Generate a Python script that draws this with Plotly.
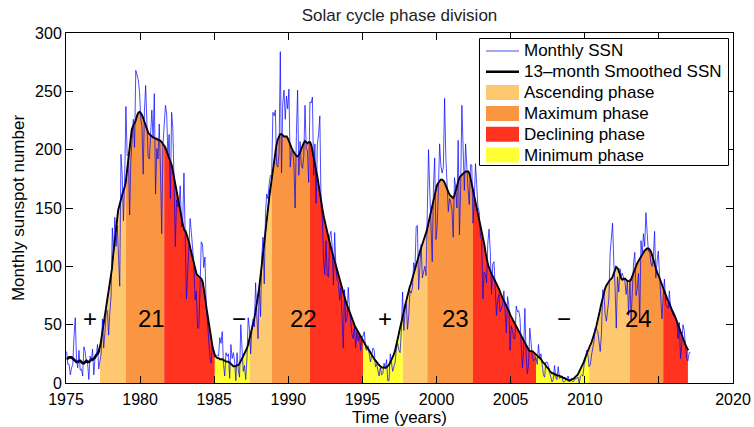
"""
Solar cycle phase division: monthly and 13-month smoothed sunspot number
with the ascending / maximum / declining / minimum phases shaded.
"""
import numpy as np
import plotly.graph_objects as go

start_year = 1975

# Monthly mean sunspot number, Jan 1975 .. Feb 2017 (one row per year)
monthly_ssn = [
    27, 16, 16, 7, 13, 16, 40, 56, 20, 13, 28, 11,            # 1975
    12, 6, 31, 27, 18, 17, 3, 23, 19, 29, 7, 22,              # 1976
    23, 33, 12, 18, 26, 55, 30, 43, 62, 62, 41, 61,           # 1977
    74, 133, 109, 142, 117, 135, 100, 83, 196, 178, 139, 174,  # 1978
    237, 195, 196, 144, 191, 212, 226, 202, 268, 264, 260, 250,  # 1979
    227, 220, 179, 233, 255, 223, 194, 192, 220, 234, 210, 248,  # 1980
    162, 201, 192, 222, 181, 128, 204, 225, 238, 231, 195, 213,  # 1981
    158, 232, 218, 173, 117, 157, 151, 153, 169, 134, 139, 180,  # 1982
    120, 72, 94, 115, 141, 129, 117, 102, 71, 79, 47, 47,     # 1983
    81, 121, 119, 99, 108, 65, 53, 36, 22, 17, 32, 27,        # 1984
    23, 23, 24, 23, 39, 34, 44, 16, 6, 26, 23, 25,            # 1985
    4, 33, 21, 26, 19, 2, 26, 11, 5, 50, 22, 10,              # 1986
    15, 3, 21, 56, 47, 25, 48, 55, 48, 86, 57, 38,            # 1987
    84, 57, 108, 125, 85, 145, 162, 158, 171, 178, 178, 232,  # 1988
    229, 234, 187, 185, 197, 284, 180, 240, 251, 226, 246, 235,  # 1989
    252, 185, 199, 199, 188, 150, 212, 251, 178, 207, 187, 184,  # 1990
    194, 238, 201, 199, 172, 241, 240, 245, 178, 205, 154, 205,  # 1991
    213, 229, 152, 142, 105, 93, 122, 92, 91, 126, 130, 117,  # 1992
    84, 129, 99, 88, 87, 71, 82, 60, 30, 80, 52, 56,          # 1993
    82, 64, 50, 42, 38, 48, 30, 44, 36, 42, 28, 40,           # 1994
    40, 44, 30, 28, 32, 22, 18, 24, 30, 28, 14, 16,           # 1995
    11, 6, 13, 7, 8, 17, 12, 20, 2, 2, 25, 19,                # 1996
    10, 14, 18, 30, 34, 28, 26, 45, 78, 45, 62, 68,           # 1997
    46, 58, 79, 77, 82, 103, 97, 134, 135, 80, 107, 119,      # 1998
    90, 96, 100, 92, 154, 200, 165, 136, 104, 169, 193, 123,  # 1999
    134, 167, 205, 186, 180, 185, 244, 194, 163, 147, 158, 155,  # 2000
    148, 125, 176, 167, 150, 208, 127, 165, 238, 195, 165, 205,  # 2001
    177, 166, 153, 187, 187, 137, 154, 188, 170, 151, 147, 126,  # 2002
    123, 72, 95, 93, 86, 120, 132, 113, 76, 102, 104, 72,     # 2003
    58, 71, 76, 61, 64, 67, 79, 63, 43, 74, 67, 28,           # 2004
    49, 45, 38, 38, 66, 61, 62, 56, 34, 13, 28, 64,           # 2005
    24, 8, 16, 47, 35, 22, 19, 20, 22, 16, 33, 21,            # 2006
    25, 16, 7, 5, 18, 18, 15, 9, 4, 1, 3, 15,                 # 2007
    5, 3, 14, 4, 5, 5, 1, 1, 2, 4, 6, 1,                      # 2008
    2, 2, 1, 2, 4, 4, 5, 0, 6, 7, 6, 16,                      # 2009
    20, 28, 25, 14, 16, 24, 30, 36, 48, 46, 44, 36,           # 2010
    27, 42, 80, 77, 59, 53, 62, 72, 111, 125, 137, 104,       # 2011
    83, 47, 91, 78, 98, 92, 94, 89, 87, 76, 88, 58,           # 2012
    89, 54, 82, 103, 112, 75, 81, 94, 53, 122, 110, 128,      # 2013
    117, 146, 129, 113, 113, 103, 100, 107, 130, 90, 104, 113,  # 2014
    93, 67, 55, 75, 89, 67, 66, 64, 79, 64, 62, 58,           # 2015
    57, 56, 54, 38, 52, 21, 32, 50, 45, 33, 21, 19,           # 2016
    26, 26,                                                   # 2017
]

# 13-month smoothed sunspot number, Jan 1975 .. Dec 2016
smoothed_ssn = [
    21, 21, 22, 22, 22, 21, 20, 19, 18, 18, 19, 19,            # 1975
    18, 17, 17, 18, 19, 18, 18, 19, 20, 20, 21, 22,            # 1976
    24, 25, 27, 30, 35, 42, 50, 57, 63, 69, 75, 81,            # 1977
    88, 98, 110, 120, 130, 140, 148, 152, 157, 161, 164, 167,  # 1978
    171, 180, 190, 200, 210, 217, 220, 222, 224, 228, 231, 232,  # 1979
    231, 229, 226, 222, 219, 216, 214, 213, 212, 211, 210, 210,  # 1980
    209, 209, 208, 208, 207, 206, 204, 203, 201, 198, 195, 192,  # 1981
    190, 186, 180, 174, 168, 163, 158, 152, 146, 140, 135, 131,  # 1982
    130, 127, 124, 120, 115, 110, 105, 100, 96, 93, 92, 91,    # 1983
    90, 89, 86, 80, 72, 64, 58, 52, 45, 37, 30, 25,            # 1984
    23, 22, 21, 21, 20, 20, 20, 19, 19, 18, 18, 18,            # 1985
    17, 16, 15, 14, 14, 14, 15, 15, 16, 18, 20, 22,            # 1986
    24, 26, 29, 32, 36, 40, 44, 49, 54, 60, 66, 72,            # 1987
    80, 89, 99, 109, 119, 128, 138, 148, 157, 165, 172, 180,   # 1988
    190, 197, 203, 208, 211, 213, 213, 212, 211, 211, 211, 209,  # 1989
    206, 203, 201, 199, 197, 195, 194, 194, 195, 197, 200, 203,  # 1990
    205, 207, 206, 205, 206, 206, 203, 198, 192, 187, 181, 175,  # 1991
    168, 160, 154, 148, 142, 137, 132, 128, 123, 119, 115, 111,  # 1992
    108, 104, 100, 96, 91, 87, 84, 80, 76, 72, 69, 66,         # 1993
    63, 60, 57, 54, 51, 49, 47, 45, 43, 41, 40, 38,            # 1994
    36, 34, 32, 30, 29, 27, 25, 24, 22, 20, 19, 17,            # 1995
    16, 15, 14, 13, 13, 13, 13, 13, 14, 15, 17, 19,            # 1996
    21, 24, 27, 31, 36, 41, 46, 50, 55, 60, 65, 70,            # 1997
    74, 78, 82, 85, 89, 92, 97, 101, 105, 109, 112, 115,       # 1998
    118, 121, 124, 127, 131, 136, 141, 146, 151, 157, 162, 166,  # 1999
    169, 171, 173, 174, 174, 173, 171, 168, 165, 163, 161, 160,  # 2000
    159, 158, 160, 164, 168, 172, 175, 177, 178, 179, 180, 181,  # 2001
    181, 181, 179, 175, 169, 164, 159, 154, 149, 144, 140, 136,  # 2002
    131, 125, 118, 111, 105, 101, 98, 95, 93, 91, 89, 87,      # 2003
    85, 83, 80, 77, 74, 72, 70, 68, 66, 63, 61, 58,            # 2004
    56, 53, 51, 49, 47, 45, 43, 41, 39, 37, 35, 33,            # 2005
    31, 29, 28, 27, 27, 27, 26, 25, 24, 23, 22, 21,            # 2006
    20, 18, 17, 16, 14, 13, 12, 10, 9, 8, 8, 7,                # 2007
    7, 6, 6, 6, 5, 5, 4, 4, 3, 3, 2, 2,                        # 2008
    2, 3, 3, 4, 5, 6, 7, 9, 11, 13, 16, 18,                    # 2009
    21, 24, 27, 30, 32, 34, 37, 40, 44, 48, 52, 57,            # 2010
    62, 67, 72, 76, 80, 83, 85, 87, 88, 89, 90, 93,            # 2011
    96, 99, 98, 95, 91, 89, 88, 89, 89, 88, 87, 87,            # 2012
    87, 88, 91, 94, 97, 100, 102, 104, 106, 108, 110, 112,     # 2013
    113, 114, 115, 115, 114, 112, 109, 105, 101, 97, 94, 92,   # 2014
    89, 86, 83, 80, 77, 75, 72, 70, 67, 65, 62, 60,            # 2015
    58, 55, 52, 49, 46, 43, 40, 37, 34, 32, 30, 28,            # 2016
]

# Phase periods as (year, month) of first and last smoothed month
ascending_periods = [((1977, 4), (1979, 1)), ((1987, 5), (1988, 11)),
                     ((1997, 9), (1999, 5)), ((2010, 4), (2013, 1))]
maximum_periods = [((1979, 1), (1981, 8)), ((1988, 11), (1991, 6)),
                   ((1999, 5), (2002, 6)), ((2013, 1), (2015, 4))]
declining_periods = [((1981, 8), (1985, 1)), ((1991, 6), (1995, 1)),
                     ((2002, 6), (2006, 9)), ((2015, 4), (2016, 12))]
minimum_periods = [((1985, 1), (1987, 5)), ((1995, 1), (1997, 9)),
                   ((2006, 9), (2010, 4))]

phase_names = ["Ascending phase", "Maximum phase", "Declining phase", "Minimum phase"]
phase_colors = ["#FEC870", "#FA9641", "#FF3320", "#FFFF33"]
phase_periods = [ascending_periods, maximum_periods, declining_periods, minimum_periods]

# Cycle numbers and polarity signs written on the chart
cycle_labels = ["21", "22", "23", "24"]
cycle_label_x = [1980.8, 1991.0, 2001.3, 2013.6]
polarity_labels = ["+", "\u2212", "+", "\u2212"]
polarity_x = [1976.6, 1986.65, 1996.55, 2008.6]
label_y = 55

# x ticks (the original figure shows no 2015 label)
x_tickvals = list(range(1975, 2021, 5))
x_ticktext = ["1975", "1980", "1985", "1990", "1995", "2000", "2005", "2010", "", "2020"]

MONTHLY_COLOR = "rgba(0, 0, 255, 0.7)"
FONT = "Liberation Sans, Arial, Helvetica, sans-serif"
W, H = 754, 427
MARGIN = dict(l=66, r=21, t=33, b=44)


def month_pos(ym):
    year, month = ym
    return year + (month - 0.5) / 12


def px(x, y):
    """pixel position -> paper coordinates"""
    pw = W - MARGIN["l"] - MARGIN["r"]
    ph = H - MARGIN["t"] - MARGIN["b"]
    return (x - MARGIN["l"]) / pw, (H - MARGIN["b"] - y) / ph


t_monthly = start_year + (np.arange(len(monthly_ssn)) + 0.5) / 12
t_smooth = start_year + (np.arange(len(smoothed_ssn)) + 0.5) / 12
smooth = np.array(smoothed_ssn)

fig = go.Figure()

# Thick smoothed line underneath; the phase fills cover its lower half
fig.add_trace(go.Scatter(
    x=t_smooth, y=smooth, mode="lines",
    line=dict(color="black", width=2.6),
    name="13\u2013month Smoothed SSN", hoverinfo="skip"
))

# Phase fills under the smoothed curve
for name, color, periods in zip(phase_names, phase_colors, phase_periods):
    for a, b in periods:
        mask = (t_smooth >= month_pos(a) - 1e-6) & (t_smooth <= month_pos(b) + 1e-6)
        fig.add_trace(go.Scatter(
            x=t_smooth[mask], y=smooth[mask], mode="lines",
            fill="tozeroy", fillcolor=color,
            line=dict(width=0, color=color),
            name=name, hoverinfo="skip"
        ))

# Monthly values on top
fig.add_trace(go.Scatter(
    x=t_monthly, y=monthly_ssn, mode="lines",
    line=dict(color=MONTHLY_COLOR, width=1),
    name="Monthly SSN"
))

# Thin smoothed line as the edge of the fills
fig.add_trace(go.Scatter(
    x=t_smooth, y=smooth, mode="lines",
    line=dict(color="black", width=1.1),
    name="13\u2013month Smoothed SSN", hoverinfo="skip"
))

# Cycle numbers and polarity signs
for text, x in zip(cycle_labels + polarity_labels, cycle_label_x + polarity_x):
    fig.add_annotation(
        x=x, y=label_y, text=text, showarrow=False,
        xanchor="center", yanchor="middle",
        font=dict(size=24, color="black", family=FONT)
    )

# Legend box in the MATLAB style (swatches are wide rectangles)
legend_labels = ["Monthly SSN", "13\u2013month Smoothed SSN"] + phase_names
x0, y0 = px(479.5, 38.5)
x1, y1 = px(728.5, 165.5)
fig.add_shape(type="rect", xref="paper", yref="paper", x0=x0, y0=y1, x1=x1, y1=y0,
              line=dict(color="black", width=1), fillcolor="white", layer="above")
for i, label in enumerate(legend_labels):
    row_y = 51 + 20.8 * i
    ix0, iy = px(486, row_y)
    ix1, _ = px(519, row_y)
    if i == 0:
        fig.add_shape(type="line", xref="paper", yref="paper",
                      x0=ix0, x1=ix1, y0=iy, y1=iy, layer="above",
                      line=dict(color=MONTHLY_COLOR, width=1))
    elif i == 1:
        fig.add_shape(type="line", xref="paper", yref="paper",
                      x0=ix0, x1=ix1, y0=iy, y1=iy, layer="above",
                      line=dict(color="black", width=2.6))
    else:
        _, top = px(0, row_y - 7.5)
        _, bot = px(0, row_y + 7.5)
        fig.add_shape(type="rect", xref="paper", yref="paper",
                      x0=ix0, x1=ix1, y0=bot, y1=top, layer="above",
                      fillcolor=phase_colors[i - 2], line=dict(width=0))
    tx, _ = px(522, row_y)
    fig.add_annotation(
        xref="paper", yref="paper", x=tx, y=iy, text=label, showarrow=False,
        xanchor="left", yanchor="middle",
        font=dict(size=17, color="black", family=FONT)
    )

axis_style = dict(
    showline=True, linecolor="black", linewidth=1, mirror="ticks",
    ticks="inside", ticklen=7, tickcolor="black",
    showgrid=False, zeroline=False, automargin=False,
)

fig.update_layout(
    width=W, height=H,
    margin=MARGIN,
    plot_bgcolor="white", paper_bgcolor="white",
    font=dict(family=FONT, color="black"),
    showlegend=False,
    title=dict(
        text="Solar cycle phase division",
        x=0.5, xref="paper", xanchor="center",
        y=1 - 15 / H, yref="container", yanchor="middle",
        font=dict(size=17, color="#222")
    ),
    xaxis=dict(
        range=[1975, 2020], tickvals=x_tickvals, ticktext=x_ticktext,
        tickfont=dict(size=16, color="black", family=FONT),
        ticklabelstandoff=2,
        title=dict(text="Time (years)", standoff=2, font=dict(size=17)),
        **axis_style
    ),
    yaxis=dict(
        range=[0, 300], tickvals=list(range(0, 301, 50)),
        tickfont=dict(size=16, color="black", family=FONT),
        title=dict(text="Monthly sunspot number", standoff=6, font=dict(size=17)),
        **axis_style
    ),
)

# the page's default 8px body margin would shift the fixed-size figure
fig.write_html(
    "out.html",
    config={"displayModeBar": False},
    post_script="document.body.style.margin = '0';",
)
